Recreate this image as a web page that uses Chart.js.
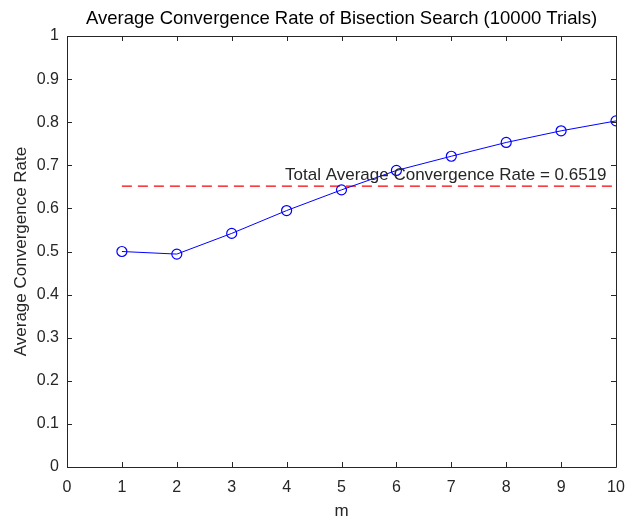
<!DOCTYPE html>
<html>
<head>
<meta charset="utf-8">
<script src="https://cdn.jsdelivr.net/npm/chart.js@4/dist/chart.umd.min.js"></script>
<style>
  html, body { margin: 0; padding: 0; background: #fff; }
  #wrap { width: 627px; height: 524px; }
</style>
</head>
<body>
<div id="wrap"><canvas id="rateChart" width="627" height="524"></canvas></div>
<script>
// values
const mValues = [1, 2, 3, 4, 5, 6, 7, 8, 9, 10];
const avgRates = [0.500, 0.494, 0.542, 0.595, 0.643, 0.688, 0.721, 0.753, 0.780, 0.803];
const totalAverage = 0.6519;
const xTicks = [0, 1, 2, 3, 4, 5, 6, 7, 8, 9, 10];
const yTicks = [0, 0.1, 0.2, 0.3, 0.4, 0.5, 0.6, 0.7, 0.8, 0.9, 1];
const noteText = 'Total Average Convergence Rate = ' + totalAverage;
const notePos = { x: 6.9, y: 0.677 };

const axisColor = '#262626';
const fontFamily = "Arial, 'Liberation Sans', Helvetica, sans-serif";

const seriesPoints = mValues.map((m, i) => ({ x: m, y: avgRates[i] }));
const avgLine = [
    { x: mValues[0], y: totalAverage },
    { x: mValues[mValues.length - 1], y: totalAverage }
];

/* box round the plot with inward ticks, like matlab */
const boxPlugin = {
    id: 'matlabBox',
    afterDatasetsDraw(chart) {
        const { ctx, chartArea: a, scales } = chart;
        ctx.save();
        ctx.strokeStyle = axisColor;
        ctx.lineWidth = 1;
        ctx.beginPath();
        ctx.rect(Math.round(a.left) + 0.5, Math.round(a.top) + 0.5,
                 Math.round(a.right - a.left), Math.round(a.bottom - a.top));
        ctx.stroke();
        const len = 5;
        ctx.beginPath();
        xTicks.forEach(v => {
            const px = Math.round(scales.x.getPixelForValue(v)) + 0.5;
            ctx.moveTo(px, a.bottom); ctx.lineTo(px, a.bottom - len);
            ctx.moveTo(px, a.top); ctx.lineTo(px, a.top + len);
        });
        yTicks.forEach(v => {
            const py = Math.round(scales.y.getPixelForValue(v)) + 0.5;
            ctx.moveTo(a.left, py); ctx.lineTo(a.left + len, py);
            ctx.moveTo(a.right, py); ctx.lineTo(a.right - len, py);
        });
        ctx.stroke();

        // text label next to the average line
        ctx.fillStyle = axisColor;
        ctx.font = '17px ' + fontFamily;
        ctx.textAlign = 'center';
        ctx.textBaseline = 'middle';
        ctx.fillText(noteText, scales.x.getPixelForValue(notePos.x), scales.y.getPixelForValue(notePos.y));
        ctx.restore();
    }
};

Chart.defaults.font.family = fontFamily;
Chart.defaults.color = axisColor;

const ctx = document.getElementById('rateChart').getContext('2d');
new Chart(ctx, {
    type: 'scatter',
    data: {
        datasets: [
            {
                label: 'Average Convergence Rate',
                data: seriesPoints,
                showLine: true,
                borderColor: '#0000ff',
                borderWidth: 1,
                pointStyle: 'circle',
                pointRadius: 5,
                pointBorderWidth: 1.2,
                pointBorderColor: '#0000ff',
                pointBackgroundColor: 'rgba(0,0,0,0)'
            },
            {
                label: 'Total Average',
                data: avgLine,
                showLine: true,
                borderColor: '#ff0000',
                borderWidth: 1.2,
                borderDash: [10, 6],
                pointRadius: 0
            }
        ]
    },
    options: {
        responsive: false,
        animation: false,
        layout: { padding: { left: 0, right: 11, top: 0, bottom: 0 } },
        plugins: {
            legend: { display: false },
            tooltip: { enabled: false },
            title: {
                display: true,
                fullSize: false,
                text: 'Average Convergence Rate of Bisection Search (10000 Trials)',
                color: '#000',
                font: { size: 18.5, weight: 'normal' },
                padding: { top: 8, bottom: 5.8 }
            }
        },
        scales: {
            x: {
                type: 'linear',
                min: 0, max: 10,
                afterBuildTicks: s => { s.ticks = xTicks.map(v => ({ value: v })); },
                afterFit: s => { s.height = 57; s.paddingRight = 0; s.paddingLeft = 0; },
                grid: { display: false, drawTicks: false },
                border: { display: false },
                ticks: { padding: 11, font: { size: 16 }, color: axisColor, maxRotation: 0,
                         callback: v => String(v) },
                title: { display: true, text: 'm', font: { size: 17 }, color: axisColor, padding: { top: 2, bottom: 2 } }
            },
            y: {
                type: 'linear',
                min: 0, max: 1,
                afterBuildTicks: s => { s.ticks = yTicks.map(v => ({ value: v })); },
                afterFit: s => { s.width = 67; },
                grid: { display: false, drawTicks: false },
                border: { display: false },
                ticks: { padding: 8, font: { size: 16 }, color: axisColor,
                         callback: v => String(+v.toFixed(1)) },
                title: { display: true, text: 'Average Convergence Rate', font: { size: 17 }, color: axisColor, padding: { top: 11, bottom: 0 } }
            }
        }
    },
    plugins: [boxPlugin]
});
</script>
</body>
</html>
